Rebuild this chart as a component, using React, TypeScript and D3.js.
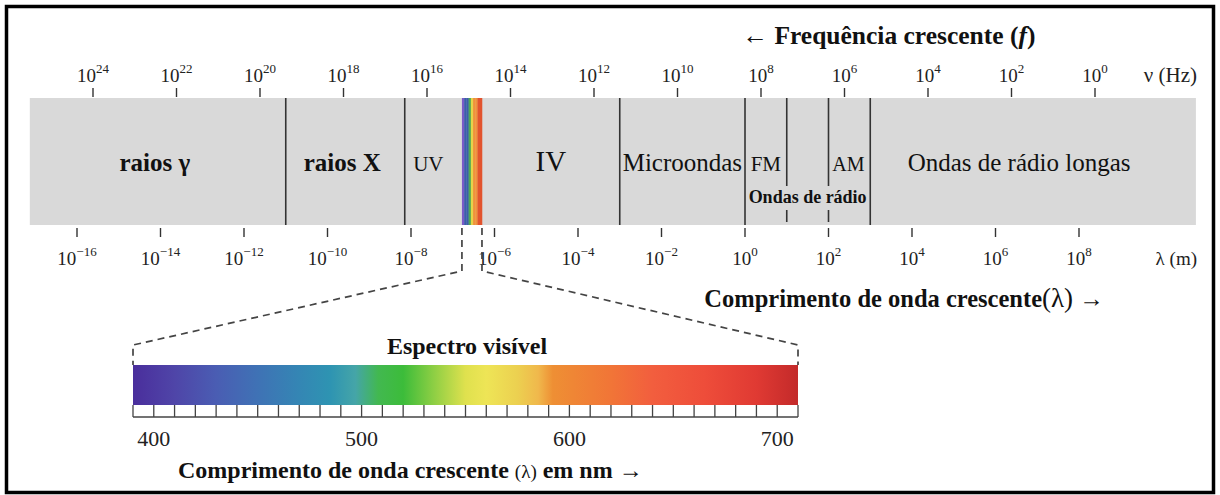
import React from 'react';
import * as d3 from 'd3';

// ---- data ----
const freqExponents = [24, 22, 20, 18, 16, 14, 12, 10, 8, 6, 4, 2, 0];
const waveExponents = [-16, -14, -12, -10, -8, -6, -4, -2, 0, 2, 4, 6, 8];
// log10 wavelength (m) boundaries of the regions
const regionBounds = [-17.13, -11, -8.15, -6.78, -6.3, -3, 0, 1, 2, 3, 10.8];
const regionNames = ['raios γ', 'raios X', 'UV', '', 'IV', 'Microondas', 'FM', '', 'AM', 'Ondas de rádio longas'];
const fullDividers = [-11, -8.15, -3, 0, 3];
const brokenDividers = [1, 2];
const stripColors = ['#7a5ac8', '#3c5eaa', '#3c5eaa', '#4ea855', '#e6d24a', '#f0923a', '#f0923a', '#e2532e', '#e2532e'];
const spectrumNm = [390, 410, 430, 450, 470, 485, 497, 508, 520, 535, 550, 560, 575, 585, 592, 620, 640, 665, 690, 710];
const spectrumColors = ['#4a2e9c', '#4f45a8', '#4a5db3', '#3f72b5', '#3486b4', '#2e94b2', '#45a5a8', '#42b850', '#3cbc3a', '#8fcf44', '#dfe14e', '#eee556', '#ecd050', '#f0b84c', '#ee8f34', '#f17537', '#f25e3e', '#ee4d3a', '#e03a33', '#c32a2a'];
const nmLabels = [400, 500, 600, 700];
const nmDomain = [390, 710];

const FONT = '"Liberation Serif", "DejaVu Serif", serif';

const labelStyle: Record<string, { size: number; bold: boolean; dx: number }> = {
  'raios γ': { size: 25, bold: true, dx: -3 },
  'raios X': { size: 25, bold: true, dx: -3 },
  'UV': { size: 21, bold: false, dx: -5 },
  'IV': { size: 29, bold: false, dx: 0 },
  'Microondas': { size: 25, bold: false, dx: 0 },
  'FM': { size: 21, bold: false, dx: 0 },
  'AM': { size: 20, bold: false, dx: -1 },
  'Ondas de rádio longas': { size: 25, bold: false, dx: -14 },
};

export default function App() {
  const W = 1220, H = 495;
  const xf = d3.scaleLog().domain([1e24, 1]).range([93, 1095]);
  const xw = d3.scaleLog().domain([1e-16, 1e8]).range([77, 1079]);
  const xl = (e: number) => xw(Math.pow(10, e));
  const xn = d3.scaleLinear().domain(nmDomain).range([133, 798]);

  const bandTop = 98, bandBot = 225;
  const barTop = 365, barBot = 405, rulerY = 417;

  const stripX0 = xl(regionBounds[3]);
  const stripX1 = xl(regionBounds[4]);
  const stripW = (stripX1 - stripX0) / stripColors.length;

  const nmTicks = d3.range(nmDomain[0], nmDomain[1] + 1, 10);

  const dash = '7,5';
  const leftPath = `M${stripX0},${bandBot + 3} L${stripX0},271 L${xn(nmDomain[0])},345 L${xn(nmDomain[0])},${barTop}`;
  const rightPath = `M${stripX1},${bandBot + 3} L${stripX1},271 L${xn(nmDomain[1])},345 L${xn(nmDomain[1])},${barTop}`;

  return (
    <svg width={W} height={H} style={{ position: 'absolute', left: 0, top: 0, background: '#fff' }} fontFamily={FONT}>
      <defs>
        <linearGradient id="vis" x1={xn(nmDomain[0])} x2={xn(nmDomain[1])} y1={0} y2={0} gradientUnits="userSpaceOnUse">
          {spectrumNm.map((nm, i) => (
            <stop key={nm} offset={(nm - nmDomain[0]) / (nmDomain[1] - nmDomain[0])} stopColor={spectrumColors[i]} />
          ))}
        </linearGradient>
      </defs>
      <rect x={0} y={0} width={W} height={H} fill="#fff" />
      <rect x={6.5} y={6.5} width={W - 13} height={H - 9} fill="none" stroke="#000" strokeWidth={3.5} />

      {/* frequency title */}
      <text x={889} y={44} textAnchor="middle" fontSize={25.5} fontWeight="bold" fill="#111">
        {'← Frequência crescente ('}<tspan fontStyle="italic">f</tspan>{')'}
      </text>

      {/* top axis */}
      {freqExponents.map(e => (
        <g key={'f' + e}>
          <line x1={xf(Math.pow(10, e))} x2={xf(Math.pow(10, e))} y1={88} y2={97} stroke="#333" strokeWidth={1.4} />
          <text x={xf(Math.pow(10, e))} y={82} textAnchor="middle" fontSize={19} fill="#222">
            10<tspan dy={-9} fontSize={13}>{e}</tspan>
          </text>
        </g>
      ))}
      <text x={1197} y={82} textAnchor="end" fontSize={21} fill="#222">ν (Hz)</text>

      {/* band */}
      <rect x={xl(regionBounds[0])} y={bandTop} width={xl(regionBounds[regionBounds.length - 1]) - xl(regionBounds[0])} height={bandBot - bandTop} fill="#d9d9d9" />
      {stripColors.map((c, i) => (
        <rect key={'s' + i} x={stripX0 + i * stripW} y={bandTop} width={stripW + 0.3} height={bandBot - bandTop} fill={c} />
      ))}
      {fullDividers.map(e => (
        <line key={'d' + e} x1={xl(e)} x2={xl(e)} y1={bandTop} y2={bandBot} stroke="#333" strokeWidth={1.6} />
      ))}
      {brokenDividers.map(e => (
        <g key={'b' + e}>
          <line x1={xl(e)} x2={xl(e)} y1={bandTop} y2={186} stroke="#333" strokeWidth={1.6} />
          <line x1={xl(e)} x2={xl(e)} y1={210} y2={bandBot - 3} stroke="#333" strokeWidth={1.6} />
        </g>
      ))}
      {regionNames.map((n, i) => {
        if (!n) return null;
        const st = labelStyle[n];
        return (
          <text key={'r' + i} x={(xl(regionBounds[i]) + xl(regionBounds[i + 1])) / 2 + st.dx} y={171}
            textAnchor="middle" fontSize={st.size} fontWeight={st.bold ? 'bold' : 'normal'} fill="#111">
            {n}
          </text>
        );
      })}
      <text x={(xl(brokenDividers[0]) + xl(brokenDividers[1])) / 2} y={203} textAnchor="middle" fontSize={18} fontWeight="bold" fill="#111"
        textLength={118} lengthAdjust="spacingAndGlyphs">Ondas de rádio</text>

      {/* bottom axis */}
      {waveExponents.map(e => (
        <g key={'w' + e}>
          <line x1={xl(e)} x2={xl(e)} y1={228} y2={237} stroke="#333" strokeWidth={1.4} />
          <text x={xl(e)} y={265} textAnchor="middle" fontSize={19} fill="#222">
            10<tspan dy={-9} fontSize={13}>{e < 0 ? '−' + Math.abs(e) : e}</tspan>
          </text>
        </g>
      ))}
      <text x={1197} y={265} textAnchor="end" fontSize={19} fill="#222">λ (m)</text>
      <text x={904} y={307} textAnchor="middle" fontSize={24.5} fontWeight="bold" fill="#111">
        {'Comprimento de onda crescente'}<tspan fontSize={27} fontWeight="normal">(λ)</tspan>{' →'}
      </text>

      {/* dashed zoom lines */}
      <path d={leftPath} fill="none" stroke="#444" strokeWidth={1.7} strokeDasharray={dash} />
      <path d={rightPath} fill="none" stroke="#444" strokeWidth={1.7} strokeDasharray={dash} />

      {/* visible spectrum */}
      <text x={467} y={354} textAnchor="middle" fontSize={24} fontWeight="bold" fill="#111">Espectro visível</text>
      <rect x={xn(nmDomain[0])} y={barTop} width={xn(nmDomain[1]) - xn(nmDomain[0])} height={barBot - barTop} fill="url(#vis)" />
      <line x1={xn(nmDomain[0])} x2={xn(nmDomain[1])} y1={rulerY} y2={rulerY} stroke="#444" strokeWidth={1.5} />
      {nmTicks.map(t => (
        <line key={'n' + t} x1={xn(t)} x2={xn(t)} y1={barBot} y2={rulerY} stroke="#444" strokeWidth={1.3} />
      ))}
      {nmLabels.map(t => (
        <text key={'l' + t} x={xn(t)} y={446} textAnchor="middle" fontSize={22} fill="#222">{t}</text>
      ))}
      <text x={178} y={478} fontSize={24} fontWeight="bold" fill="#111">
        {'Comprimento de onda crescente '}<tspan fontWeight="normal" fontSize={19}>(λ)</tspan>{' em nm →'}
      </text>
    </svg>
  );
}
